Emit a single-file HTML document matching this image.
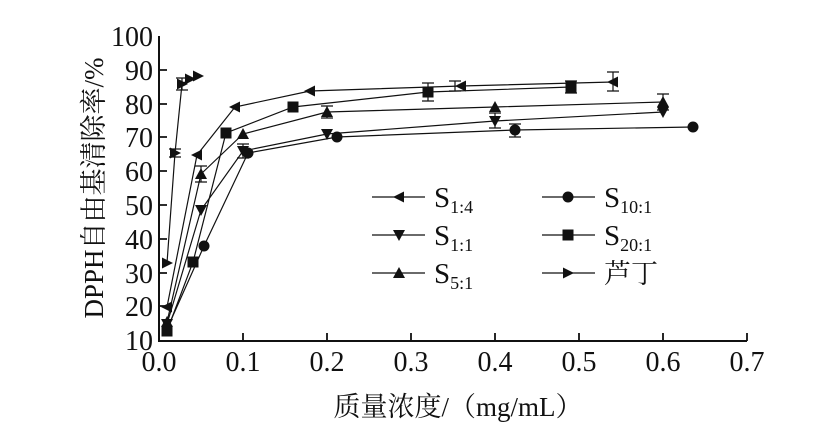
<!DOCTYPE html>
<html><head><meta charset="utf-8"><style>
body{margin:0;background:#fff}
text{font-family:"Liberation Serif","Noto Serif CJK SC",serif;fill:#111}
</style></head><body>
<svg width="822" height="435" xmlns="http://www.w3.org/2000/svg">
<defs>
<path id="tl" d="M-6,0 L5,-5.5 L5,5.5Z"/>
<path id="tr" d="M6,0 L-5,-5.5 L-5,5.5Z"/>
<path id="td" d="M0,6 L-6,-5 L6,-5Z"/>
<path id="tu" d="M0,-6 L-6,5 L6,5Z"/>
<rect id="sq" x="-5.5" y="-5.5" width="11" height="11"/>
<circle id="ci" r="5.5"/>
</defs>
<g stroke="#111" stroke-width="2" fill="none">
<path d="M159,36 V341 H747"/>
</g>
<g stroke="#111" stroke-width="1.8">
<path d="M159,70H167M159,104H167M159,137H167M159,171H167M159,205H167M159,239H167M159,273H167M159,306H167"/>
<path d="M243,341V333M327,341V333M411,341V333M495,341V333M579,341V333M663,341V333M747,341V333"/>
</g>
<g font-size="28" text-anchor="end">
<text x="153" y="46">100</text><text x="153" y="80">90</text><text x="153" y="114">80</text><text x="153" y="147">70</text><text x="153" y="181">60</text><text x="153" y="215">50</text><text x="153" y="249">40</text><text x="153" y="283">30</text><text x="153" y="316">20</text><text x="153" y="350">10</text>
</g>
<g font-size="28" text-anchor="middle">
<text x="159" y="371">0.0</text><text x="243" y="371">0.1</text><text x="327" y="371">0.2</text><text x="411" y="371">0.3</text><text x="495" y="371">0.4</text><text x="579" y="371">0.5</text><text x="663" y="371">0.6</text><text x="747" y="371">0.7</text>
</g>
<text x="458" y="416" font-size="27" text-anchor="middle">质量浓度/（mg/mL）</text>
<text transform="translate(103,188) rotate(-90)" font-size="27" text-anchor="middle">DPPH自由基清除率/%</text>
<g stroke="#111" stroke-width="1.2" fill="none">
<polyline points="167,307 197,155 235,107 310,91 461,86 613,82"/>
<polyline points="167,324 201,210 243,151 327,134 495,121 663,112"/>
<polyline points="167,322 201,174 243,134 327,112 495,107 663,102"/>
<polyline points="167,329 204,246 248,153 337,137 515,130 693,127"/>
<polyline points="167,331 193,262 226,133 293,107 428,92 571,87"/>
<polyline points="167,263 175,153 182,84 190,79 198,76"/>
</g>
<g stroke="#111" stroke-width="1.2">
<path d="M455,81V91M449,81H461M449,91H461M613,72V91M607,72H619M607,91H619M428,83V101M422,83H434M422,101H434M571,81V93M565,81H577M565,93H577M495,113V128M489,113H501M489,128H501M663,94V110M657,94H669M657,110H669M515,124V137M509,124H521M509,137H521M327,106V118M321,106H333M321,118H333M201,166V182M195,166H207M195,182H207M243,144V158M237,144H249M237,158H249M182,78V90M176,78H188M176,90H188M175,149V157M169,149H181M169,157H181"/>
</g>
<g fill="#111">
<use href="#tl" x="167" y="307"/><use href="#tl" x="197" y="155"/><use href="#tl" x="235" y="107"/><use href="#tl" x="310" y="91"/><use href="#tl" x="461" y="86"/><use href="#tl" x="613" y="82"/>
<use href="#td" x="167" y="324"/><use href="#td" x="201" y="210"/><use href="#td" x="243" y="151"/><use href="#td" x="327" y="134"/><use href="#td" x="495" y="121"/><use href="#td" x="663" y="112"/>
<use href="#tu" x="167" y="322"/><use href="#tu" x="201" y="174"/><use href="#tu" x="243" y="134"/><use href="#tu" x="327" y="112"/><use href="#tu" x="495" y="107"/><use href="#tu" x="663" y="102"/>
<use href="#ci" x="167" y="329"/><use href="#ci" x="204" y="246"/><use href="#ci" x="248" y="153"/><use href="#ci" x="337" y="137"/><use href="#ci" x="515" y="130"/><use href="#ci" x="693" y="127"/>
<use href="#sq" x="167" y="331"/><use href="#sq" x="193" y="262"/><use href="#sq" x="226" y="133"/><use href="#sq" x="293" y="107"/><use href="#sq" x="428" y="92"/><use href="#sq" x="571" y="87"/>
<use href="#tr" x="167" y="263"/><use href="#tr" x="175" y="153"/><use href="#tr" x="182" y="84"/><use href="#tr" x="190" y="79"/><use href="#tr" x="198" y="76"/>
</g>
<g stroke="#111" stroke-width="1.2">
<path d="M372,197H425M372,235H425M372,273H425M542,197H595M542,235H595M542,273H595"/>
</g>
<g fill="#111">
<use href="#tl" x="399" y="197"/><use href="#td" x="399" y="235"/><use href="#tu" x="399" y="273"/>
<use href="#ci" x="568" y="197"/><use href="#sq" x="568" y="235"/><use href="#tr" x="568" y="273"/>
</g>
<g font-size="29">
<text x="434" y="207">S<tspan font-size="18" dy="6">1:4</tspan></text>
<text x="434" y="245">S<tspan font-size="18" dy="6">1:1</tspan></text>
<text x="434" y="283">S<tspan font-size="18" dy="6">5:1</tspan></text>
<text x="604" y="207">S<tspan font-size="18" dy="6">10:1</tspan></text>
<text x="604" y="245">S<tspan font-size="18" dy="6">20:1</tspan></text>
<text x="604" y="283" font-size="27">芦丁</text>
</g>
</svg>
</body></html>
